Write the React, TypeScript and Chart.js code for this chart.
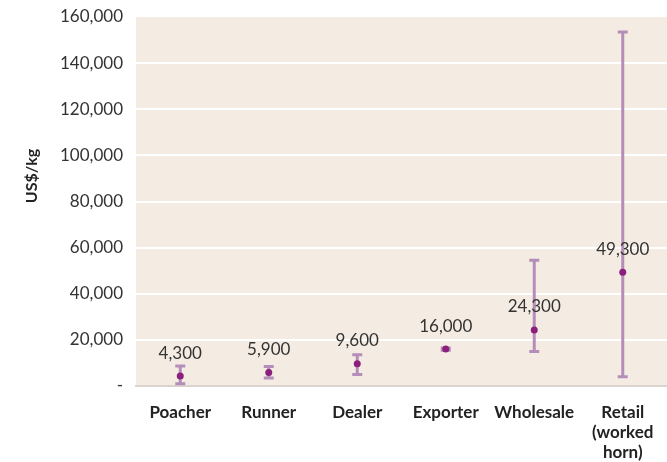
import React, { useEffect, useRef } from "react";
import { Chart, registerables } from "chart.js";

Chart.register(...registerables);

const categories: (string | string[])[] = [
  "Poacher",
  "Runner",
  "Dealer",
  "Exporter",
  "Wholesale",
  ["Retail", "(worked", "horn)"],
];
const medians = [4300, 5900, 9600, 16000, 24300, 49300];
const lows = [1000, 3500, 5000, 15500, 15000, 4000];
const highs = [8700, 8500, 13500, 16500, 54500, 153500];
const medianLabels = ["4,300", "5,900", "9,600", "16,000", "24,300", "49,300"];
const yTickMax = 160000;
const yTickStep = 20000;

const FONT = 'Lato, "Open Sans", sans-serif';

export default function App() {
  const ref = useRef<HTMLCanvasElement | null>(null);

  useEffect(() => {
    if (!ref.current) return;

    const bgPlugin = {
      id: "bg",
      beforeDraw(chart: any) {
        const { ctx, chartArea } = chart;
        ctx.save();
        ctx.fillStyle = "#F4ECE2";
        ctx.fillRect(chartArea.left, chartArea.top, chartArea.right - chartArea.left, chartArea.bottom - chartArea.top);
        ctx.restore();
      },
    };

    const errorPlugin = {
      id: "errbars",
      beforeDatasetsDraw(chart: any) {
        const { ctx, scales } = chart;
        const xs = scales.x;
        const ys = scales.y;
        ctx.save();
        ctx.strokeStyle = "#B48DB8";
        ctx.lineWidth = 3;
        for (let i = 0; i < medians.length; i++) {
          const x = xs.getPixelForValue(i);
          const yl = ys.getPixelForValue(lows[i]);
          const yh = ys.getPixelForValue(highs[i]);
          ctx.beginPath();
          ctx.moveTo(x, yl);
          ctx.lineTo(x, yh);
          ctx.moveTo(x - 5, yl);
          ctx.lineTo(x + 5, yl);
          ctx.moveTo(x - 5, yh);
          ctx.lineTo(x + 5, yh);
          ctx.stroke();
        }
        ctx.restore();
      },
      afterDatasetsDraw(chart: any) {
        const { ctx, scales } = chart;
        const xs = scales.x;
        const ys = scales.y;
        ctx.save();
        ctx.fillStyle = "#333333";
        ctx.font = `17px ${FONT}`;
        ctx.textAlign = "center";
        ctx.textBaseline = "middle";
        for (let i = 0; i < medians.length; i++) {
          const x = xs.getPixelForValue(i);
          const y = ys.getPixelForValue(medians[i]);
          ctx.fillText(medianLabels[i], x, y - 23);
        }
        ctx.restore();
      },
      afterDraw(chart: any) {
        const { ctx } = chart;
        ctx.save();
        ctx.translate(32, 176);
        ctx.rotate(-Math.PI / 2);
        ctx.fillStyle = "#222222";
        ctx.font = `bold 16px ${FONT}`;
        ctx.textAlign = "center";
        ctx.textBaseline = "middle";
        ctx.fillText("US$/kg", 0, 0);
        ctx.restore();
      },
    };

    const chart = new Chart(ref.current, {
      type: "line",
      data: {
        labels: categories as any,
        datasets: [
          {
            data: medians,
            showLine: false,
            pointRadius: 3.5,
            pointHoverRadius: 3.5,
            pointBackgroundColor: "#8A1F7E",
            pointBorderColor: "#8A1F7E",
            pointBorderWidth: 0,
          },
        ],
      },
      options: {
        animation: false,
        responsive: false,
        maintainAspectRatio: false,
        layout: { autoPadding: false, padding: { top: 17, right: 0, left: 0, bottom: 0 } },
        plugins: {
          legend: { display: false },
          tooltip: { enabled: false },
        },
        scales: {
          x: {
            offset: true,
            grid: { display: false },
            border: { display: true, color: "#D9D4D0", width: 2 },
            ticks: {
              color: "#222222",
              padding: 8,
              maxRotation: 0,
              autoSkip: false,
              font: { family: FONT, size: 17, weight: "bold", lineHeight: 1.2 },
            },
            afterFit(scale: any) {
              scale.height = 76;
              scale.paddingLeft = 0;
              scale.paddingRight = 0;
            },
          },
          y: {
            min: 0,
            max: yTickMax,
            border: { display: false },
            grid: {
              drawTicks: false,
              lineWidth: 2,
              color: (c: any) => (c.tick && (c.tick.value === 0 || c.tick.value === yTickMax) ? "rgba(0,0,0,0)" : "#FFFFFF"),
            },
            ticks: {
              stepSize: yTickStep,
              color: "#333333",
              padding: 13,
              font: { family: FONT, size: 17 },
              callback: (v: any) => (Number(v) === 0 ? "-" : Number(v).toLocaleString("en-US")),
            },
            afterFit(scale: any) {
              scale.width = 136;
              scale.paddingTop = 0;
              scale.paddingBottom = 0;
            },
          },
        },
      },
      plugins: [bgPlugin, errorPlugin],
    });

    return () => chart.destroy();
  }, []);

  return (
    <div style={{ position: "fixed", left: 0, top: 0, width: 667, height: 462, background: "#fff" }}>
      <canvas ref={ref} width={667} height={462} style={{ width: 667, height: 462 }} />
    </div>
  );
}
